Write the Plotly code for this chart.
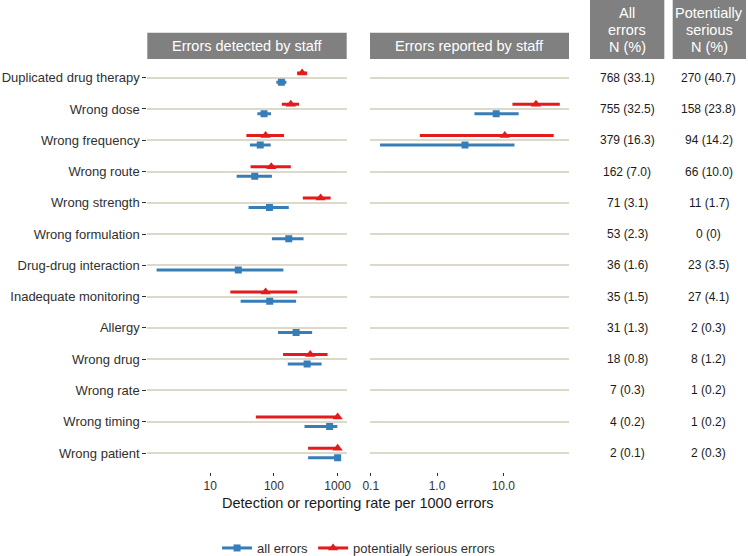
import plotly.graph_objects as go

categories = ["Duplicated drug therapy", "Wrong dose", "Wrong frequency", "Wrong route",
              "Wrong strength", "Wrong formulation", "Drug-drug interaction",
              "Inadequate monitoring", "Allergy", "Wrong drug", "Wrong rate",
              "Wrong timing", "Wrong patient"]

# Errors detected by staff (rate per 1000 errors)
detected_all = [131, 70, 61, 50, 85, 171, 27.6, 86, 223, 332, None, 748, 1000]
detected_all_lo = [109, 55, 42, 26, 40, 93, 1.44, 30, 116, 165, None, 302, 344]
detected_all_hi = [157, 90, 89, 93, 171, 292, 141, 223, 398, 560, None, 986, 1000]

detected_serious = [277, 184, 74, 91, 540, None, None, 74, None, 371, None, 1000, 1000]
detected_serious_lo = [231, 133, 37, 43, 284, None, None, 20.7, None, 139, None, 52, 344]
detected_serious_hi = [332, 248, 144, 184, 776, None, None, 231, None, 695, None, 1000, 1000]

# Errors reported by staff
reported_all = [None, 7.8, 2.64, None, None, None, None, None, None, None, None, None, None]
reported_all_lo = [None, 3.66, 0.138, None, None, None, None, None, None, None, None, None, None]
reported_all_hi = [None, 17.0, 14.7, None, None, None, None, None, None, None, None, None, None]

reported_serious = [None, 31, 10.5, None, None, None, None, None, None, None, None, None, None]
reported_serious_lo = [None, 13.7, 0.55, None, None, None, None, None, None, None, None, None, None]
reported_serious_hi = [None, 71, 57.5, None, None, None, None, None, None, None, None, None, None]

all_errors_n = ["768 (33.1)", "755 (32.5)", "379 (16.3)", "162 (7.0)", "71 (3.1)", "53 (2.3)",
                "36 (1.6)", "35 (1.5)", "31 (1.3)", "18 (0.8)", "7 (0.3)", "4 (0.2)", "2 (0.1)"]
serious_n = ["270 (40.7)", "158 (23.8)", "94 (14.2)", "66 (10.0)", "11 (1.7)", "0 (0)",
             "23 (3.5)", "27 (4.1)", "2 (0.3)", "8 (1.2)", "1 (0.2)", "1 (0.2)", "2 (0.3)"]

panel_titles = ["Errors detected by staff", "Errors reported by staff"]
left_ticks = [10, 100, 1000]
left_ticktext = ["10", "100", "1000"]
right_ticks = [0.1, 1, 10]
right_ticktext = ["0.1", "1.0", "10.0"]

BLUE = "#377eb8"
RED = "#e41a1c"
GRID = "#dcd9c8"
STRIP = "#808080"
TXT = "#303030"
FONT = "Liberation Sans, Arial, sans-serif"
DODGE = 0.15

fig = go.Figure()


def add_series(pt, lo, hi, color, symbol, size, offset, xa, ya):
    lx, ly, mx, my = [], [], [], []
    for i, (p, a, b) in enumerate(zip(pt, lo, hi)):
        if p is None:
            continue
        yy = i + offset
        lx += [a, b, None]
        ly += [yy, yy, None]
        mx.append(p)
        my.append(yy)
    fig.add_trace(go.Scatter(x=lx, y=ly, mode="lines", line=dict(color=color, width=3),
                             xaxis=xa, yaxis=ya, showlegend=False, hoverinfo="skip"))
    fig.add_trace(go.Scatter(x=mx, y=my, mode="markers",
                             marker=dict(color=color, symbol=symbol, size=size),
                             xaxis=xa, yaxis=ya, showlegend=False))


add_series(detected_serious, detected_serious_lo, detected_serious_hi, RED, "triangle-up", 9, -DODGE, "x", "y")
add_series(detected_all, detected_all_lo, detected_all_hi, BLUE, "square", 7, DODGE, "x", "y")
add_series(reported_serious, reported_serious_lo, reported_serious_hi, RED, "triangle-up", 9, -DODGE, "x2", "y2")
add_series(reported_all, reported_all_lo, reported_all_hi, BLUE, "square", 7, DODGE, "x2", "y2")

# legend entries
fig.add_trace(go.Scatter(x=[None], y=[None], mode="lines+markers", name="all errors",
                         line=dict(color=BLUE, width=3), marker=dict(color=BLUE, symbol="square", size=7)))
fig.add_trace(go.Scatter(x=[None], y=[None], mode="lines+markers", name="potentially serious errors",
                         line=dict(color=RED, width=3), marker=dict(color=RED, symbol="triangle-up", size=9)))

W, H = 748, 556


def py(v):
    return 1 - v / H


ydom = [py(471.8), py(58.9)]
xdom1 = [147.3 / W, 346.7 / W]
xdom2 = [370.0 / W, 569.0 / W]
n = len(categories)
yrange = [n - 1 + 0.6, -0.6]

xaxis_common = dict(type="log", showgrid=False, zeroline=False, showline=False, ticks="outside",
                    ticklen=3, tickwidth=1.2, tickcolor=TXT, tickfont=dict(size=12, color=TXT),
                    automargin=False)

fig.update_layout(
    width=W, height=H, autosize=False, margin=dict(l=0, r=0, t=0, b=0, autoexpand=False),
    paper_bgcolor="white", plot_bgcolor="white",
    font=dict(family=FONT, color=TXT),
    xaxis=dict(domain=xdom1, anchor="y", range=[0.013, 3.142], tickvals=left_ticks,
               ticktext=left_ticktext, **xaxis_common),
    xaxis2=dict(domain=xdom2, anchor="y2", range=[-1.011, 1.99], tickvals=right_ticks,
                ticktext=right_ticktext, **xaxis_common),
    yaxis=dict(domain=ydom, anchor="x", range=yrange, tickvals=list(range(n)), ticktext=categories,
               showgrid=True, gridcolor=GRID, gridwidth=1.5, zeroline=False, showline=False,
               ticks="outside", ticklen=4, tickwidth=1.2, tickcolor=TXT,
               tickfont=dict(size=13, color=TXT), automargin=False),
    yaxis2=dict(domain=ydom, anchor="x2", matches="y", range=yrange, tickvals=list(range(n)),
                showticklabels=False, showgrid=True, gridcolor=GRID, gridwidth=1.5,
                zeroline=False, showline=False, ticks=""),
    legend=dict(orientation="h", x=0.48, xanchor="center", y=py(548), yanchor="middle",
                font=dict(size=13, color=TXT), bgcolor="rgba(0,0,0,0)"),
    showlegend=True,
)

# strip headers
strip_y0, strip_y1 = py(59.0), py(32.7)
for xr, title in zip(["x domain", "x2 domain"], panel_titles):
    fig.add_shape(type="rect", xref=xr, yref="paper", x0=0, x1=1, y0=strip_y0, y1=strip_y1,
                  fillcolor=STRIP, line=dict(width=0), layer="below")
    fig.add_annotation(xref=xr, yref="paper", x=0.5, y=(strip_y0 + strip_y1) / 2, text=title,
                       showarrow=False, font=dict(size=14.5, color="white"), xanchor="center",
                       yanchor="middle")

# table column headers
header_boxes = [(590.0, 664.3, ["All", "errors", "N (%)"]),
                (672.7, 746.0, ["Potentially", "serious", "N (%)"])]
line_px = [13.3, 30.3, 47.0]
for x0, x1, lines in header_boxes:
    fig.add_shape(type="rect", xref="paper", yref="paper", x0=x0 / W, x1=x1 / W,
                  y0=py(59.0), y1=1.0, fillcolor=STRIP, line=dict(width=0), layer="below")
    for ln, lp in zip(lines, line_px):
        fig.add_annotation(xref="paper", yref="paper", x=(x0 + x1) / 2 / W, y=py(lp), text=ln,
                           showarrow=False, font=dict(size=14.5, color="white"),
                           xanchor="center", yanchor="middle")

# table values
col_x = [627.0 / W, 708.5 / W]
for i in range(n):
    for cx, col in zip(col_x, [all_errors_n, serious_n]):
        fig.add_annotation(xref="paper", yref="y", x=cx, y=i, text=col[i], showarrow=False,
                           font=dict(size=12, color="#1a1a1a"), xanchor="center", yanchor="middle")

# x-axis title
fig.add_annotation(xref="paper", yref="paper", x=358.0 / W, y=py(503.0),
                   text="Detection or reporting rate per 1000 errors", showarrow=False,
                   font=dict(size=14.5, color="#1a1a1a"), xanchor="center", yanchor="middle")

post = ("var s=document.documentElement.style;s.margin='0';s.padding='0';"
        "var b=document.body.style;b.margin='0';b.padding='0';")
fig.write_html("out.html", config={"displayModeBar": False, "responsive": False},
               post_script=post)
